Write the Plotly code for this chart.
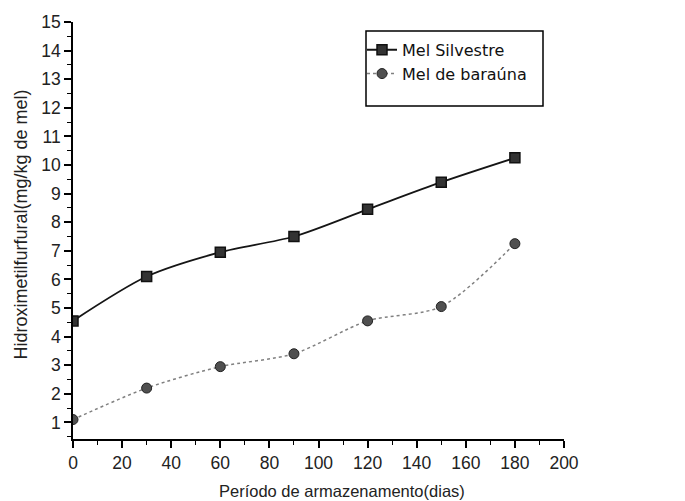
import plotly.graph_objects as go

dias = [0, 30, 60, 90, 120, 150, 180]
silvestre = [4.55, 6.1, 6.95, 7.5, 8.45, 9.4, 10.25]
barauna = [1.1, 2.2, 2.95, 3.4, 4.55, 5.05, 7.25]
x_ticks = list(range(0, 201, 20))
y_ticks = list(range(1, 16))

FONT = "Liberation Sans, Arial, sans-serif"
W, H = 685, 501
L, R, T, B = 73, 121, 17, 62
PW, PH = W - L - R, H - T - B

def px_x(p):
    return (p - L) / PW

def px_y(p):
    return (H - B - p) / PH

fig = go.Figure()
fig.add_trace(go.Scatter(
    x=dias, y=silvestre, name="Mel Silvestre", mode="lines+markers",
    line=dict(color="#151515", width=1.8, shape="spline", smoothing=0.8),
    marker=dict(symbol="square", size=10, color="#333333", line=dict(color="#111111", width=1.5)),
))
fig.add_trace(go.Scatter(
    x=dias, y=barauna, name="Mel de baraúna", mode="lines+markers",
    line=dict(color="#808080", width=1.5, dash="dot", shape="spline", smoothing=0.8),
    marker=dict(symbol="circle", size=10, color="#505050", line=dict(color="#222222", width=1)),
))

axis_common = dict(
    showgrid=False, zeroline=False, showline=True, linecolor="black", linewidth=1.5,
    ticks="outside", ticklen=7, tickwidth=1.5, tickcolor="black",
    tickfont=dict(family=FONT, size=17.5, color="#222222"),
    mirror=False,
)
fig.update_xaxes(
    range=[0, 200], tickvals=x_ticks,
    minor=dict(ticks="outside", ticklen=4, dtick=10, tickcolor="black", tickwidth=1.3),
    **axis_common,
)
fig.update_yaxes(
    range=[0.42, 15], tickvals=y_ticks,
    minor=dict(ticks="outside", ticklen=4, dtick=0.5, tick0=0.5, tickcolor="black", tickwidth=1.3),
    **axis_common,
)

fig.add_annotation(text="Período de armazenamento(dias)", xref="paper", yref="paper",
                   x=px_x(342), y=px_y(492), xanchor="center", yanchor="middle",
                   showarrow=False, font=dict(family=FONT, size=16.5, color="#222222"))
fig.add_annotation(text="Hidroximetilfurfural(mg/kg de mel)", xref="paper", yref="paper",
                   x=px_x(21), y=px_y(222), xanchor="center", yanchor="middle", textangle=-90,
                   showarrow=False, font=dict(family=FONT, size=18, color="#222222"))

fig.add_shape(type="rect", xref="paper", yref="paper",
              x0=px_x(366), x1=px_x(543), y0=px_y(102), y1=px_y(26),
              line=dict(color="black", width=1.5), fillcolor="rgba(0,0,0,0)")
fig.update_layout(
    width=W, height=H,
    margin=dict(l=L, r=R, t=T, b=B),
    plot_bgcolor="white", paper_bgcolor="white",
    showlegend=True,
    legend=dict(x=px_x(362), y=px_y(28), xanchor="left", yanchor="top",
                bgcolor="rgba(0,0,0,0)", borderwidth=0, tracegroupgap=0,
                font=dict(family="DejaVu Sans, sans-serif", size=16, color="#111111"),
                itemwidth=30),
)
fig.write_html("out.html")
